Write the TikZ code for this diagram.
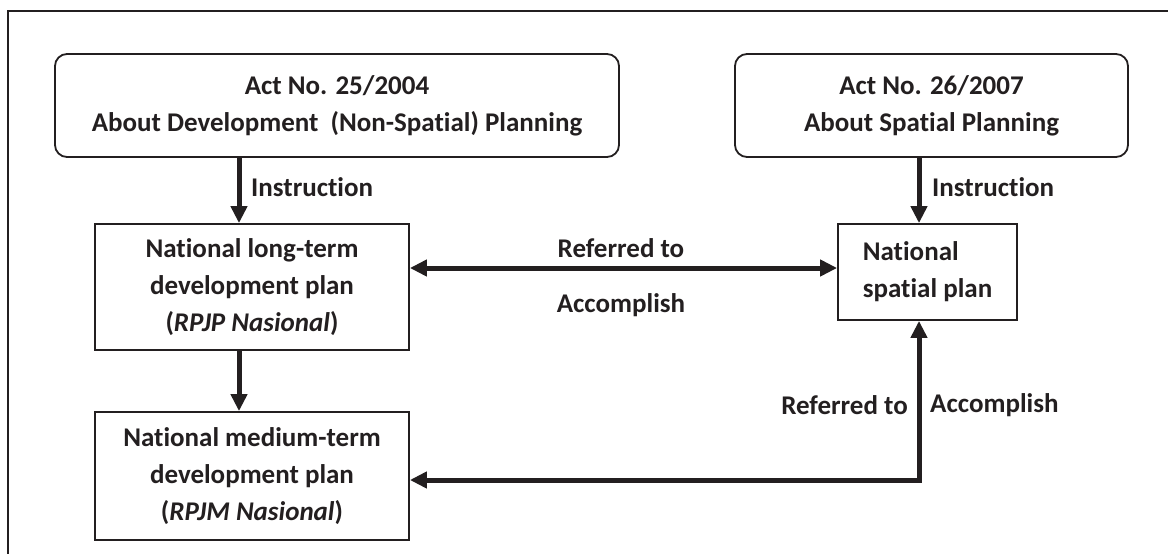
\documentclass[tikz,border=0pt]{standalone}
\usepackage{fontspec}
\setmainfont[Ligatures={NoCommon,NoDiscretionary,NoRare}]{Carlito}
\usetikzlibrary{arrows.meta}
\definecolor{ink}{HTML}{231F20}
\begin{document}
\begin{tikzpicture}[x=1pt,y=-1pt,
  txt/.style={font=\fontsize{27}{37}\selectfont\bfseries, text=ink},
  actbox/.style={txt, draw=ink, line width=1.8pt, rounded corners=12pt, align=center, inner sep=0pt},
  planbox/.style={txt, draw=ink, line width=1.8pt, align=center, inner sep=0pt},
  lbl/.style={txt, inner sep=0pt},
  flow/.style={draw=ink, line width=5pt, line join=miter,
    -{Triangle[length=17pt,width=16pt]}},
  both/.style={draw=ink, line width=5pt, line join=miter,
    {Triangle[length=17pt,width=16pt]}-{Triangle[length=17pt,width=16pt]}}]
  \useasboundingbox (0,0) rectangle (1168,554);
  \fill[white] (0,0) rectangle (1168,554);
  % outer frame (open to the right and bottom)
  \draw[ink, line width=1.6pt] (8,554) -- (8,11) -- (1168,11);

  % acts
  \node[actbox, minimum width=564pt, minimum height=103pt] (actA) at (337,105.5)
    {Act No. 25/2004\\About Development\ \ (Non-Spatial) Planning};
  \node[actbox, minimum width=393pt, minimum height=103pt] (actB) at (931.5,105.5)
    {Act No. 26/2007\\About Spatial Planning};

  % plans
  \node[planbox, minimum width=314pt, minimum height=126pt] (rpjp) at (252,287)
    {National long-term\\development plan\\(\textit{RPJP Nasional})};
  \node[planbox, minimum width=314pt, minimum height=128pt] (rpjm) at (252,476)
    {National medium-term\\development plan\\(\textit{RPJM Nasional})};
  \node[planbox, minimum width=179pt, minimum height=96pt, align=left] (rtrw) at (927.5,272)
    {National\\spatial plan};

  % connector guides
  \coordinate (colL) at (239,0);
  \coordinate (colR) at (919,0);
  \coordinate (rowM) at (0,268);
  \coordinate (rowB) at (0,480);

  \draw[flow] (actA.south -| colL) -- (rpjp.north -| colL);
  \draw[flow] (rpjp.south -| colL) -- (rpjm.north -| colL);
  \draw[flow] (actB.south -| colR) -- (rtrw.north -| colR);
  \draw[both] (rpjp.east |- rowM) -- (rtrw.west |- rowM);
  \draw[both] (rpjm.east |- rowB) -| (rtrw.south -| colR);

  % labels
  \node[lbl, anchor=west] (insL) at (251,187) {Instruction};
  \node[lbl, anchor=west] (insR) at (932,187) {Instruction};
  \node[lbl] (refM) at (621,248) {Referred to};
  \node[lbl] (accM) at (621,305) {Accomplish};
  \node[lbl, anchor=east] (refB) at (908,405) {Referred to};
  \node[lbl, anchor=west] (accB) at (930,405) {Accomplish};
\end{tikzpicture}
\end{document}
